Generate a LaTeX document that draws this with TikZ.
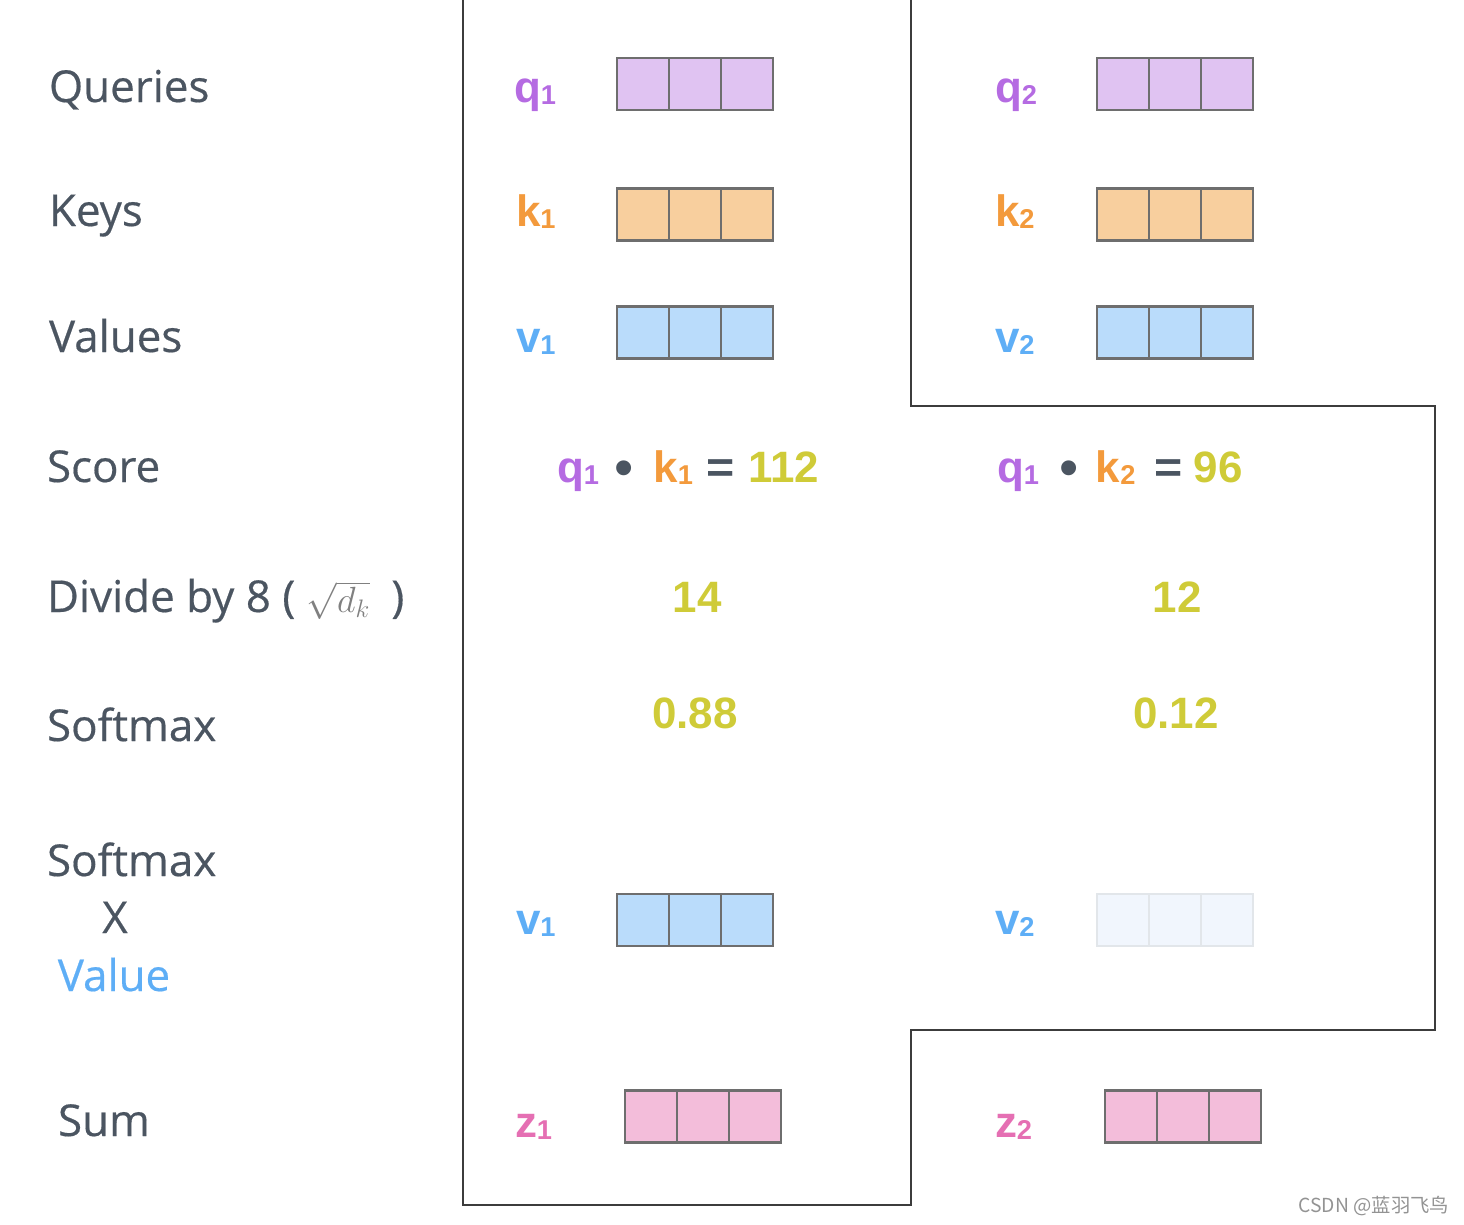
\documentclass[tikz,border=0pt]{standalone}
\usepackage{fontspec}
\setmainfont{Open Sans}
\newfontfamily\rowfont{Open Sans}[FakeBold=0.4]
\newfontfamily\lblfont{Liberation Sans}
\newfontfamily\cjk{Noto Sans CJK SC}
\usetikzlibrary{positioning}

\definecolor{txtgray}{HTML}{4B5561}
\definecolor{boxgray}{HTML}{6E6E6E}
\definecolor{framegray}{HTML}{3C3C3C}
\definecolor{qcol}{HTML}{B56BE2}
\definecolor{qfill}{HTML}{E0C3F2}
\definecolor{kcol}{HTML}{F39A3C}
\definecolor{kfill}{HTML}{F8CF9E}
\definecolor{vcol}{HTML}{5EAEF6}
\definecolor{vfill}{HTML}{BADCFB}
\definecolor{zcol}{HTML}{E56FB3}
\definecolor{zfill}{HTML}{F3BDDA}
\definecolor{numcol}{HTML}{CFCB38}
\definecolor{fadefill}{HTML}{F1F6FD}
\definecolor{fadedraw}{HTML}{E2E6EA}

% coloured vector name with its index
\newcommand\vname[3]{{\color{#1}\lblfont\bfseries #2\fontsize{15.5}{15}\selectfont\raisebox{-1.5pt}{#3}}}
% dot and equals sign of the score row
\newcommand\dotop{{\lblfont\color{txtgray}\raisebox{-2.8pt}{\scalebox{1.25}{\textbullet}}}}
\newcommand\eqop{{\lblfont\bfseries\color{txtgray}\scalebox{1.1}[1]{=}}}
% row of three cells: name, x of first cell, y, fill, border
\newcommand\vecrow[5]{%
  \foreach \i in {0,1,2}
    \node[cell, fill=#4, draw=#5] (#1\i) at (#2+52*\i,#3) {};}

\begin{document}
\begin{tikzpicture}
        [x=0.02cm, y=-0.02cm,
        every node/.style={inner sep=0pt, outer sep=0pt},
        rowlabel/.style={anchor=base west, text=txtgray,
        font=\rowfont\fontsize{25}{28}\selectfont},
        vlabel/.style={anchor=base west,
        font=\fontsize{25}{28}\selectfont},
        num/.style={anchor=base, text=numcol,
        font=\lblfont\bfseries\fontsize{25}{28}\selectfont},
        cell/.style={rectangle, minimum size=1.04cm, line width=1.4pt},
        frame/.style={draw=framegray, line width=1.2pt}]
        \useasboundingbox (0,0) rectangle (1464,1224);

        % row labels
        \node[rowlabel] (queries) at (49,102) {Queries};
        \node[rowlabel] (keys) at (49,226) {Keys};
        \node[rowlabel] (values) at (49,352) {Values};
        \node[rowlabel] (score) at (47,482) {Score};
        \node[rowlabel] (divide) at (47,612)
            {Divide by 8 ( {\color{gray}\fontsize{22.5}{22}\selectfont$\sqrt{d_k}$}\hspace{12pt})};
        \node[rowlabel] (softmax) at (47,741) {Softmax};
        \node[rowlabel] (softmaxb) at (47,876) {Softmax};
        \node[rowlabel, anchor=base] (times) at (115,933) {X};
        \node[rowlabel, anchor=base, text=vcol] (value) at (114,991) {Value};
        \node[rowlabel] (sum) at (58,1136) {Sum};

        % outline of the two columns
        \draw[frame] (463,0) |- (911,1205) |- (1435,1030) |- (911,406) -- (911,0);

        % first word
        \node[vlabel] (q1) at (514,102) {\vname{qcol}{q}{1}};
        \node[vlabel] (k1) at (516,226) {\vname{kcol}{k}{1}};
        \node[vlabel] (v1) at (516,352) {\vname{vcol}{v}{1}};
        \vecrow{q1box}{643}{84}{qfill}{boxgray}
        \vecrow{k1box}{643}{214.5}{kfill}{boxgray}
        \vecrow{v1box}{643}{332.5}{vfill}{boxgray}

        % second word
        \node[vlabel] (q2) at (995,102) {\vname{qcol}{q}{2}};
        \node[vlabel] (k2) at (995,226) {\vname{kcol}{k}{2}};
        \node[vlabel] (v2) at (995,352) {\vname{vcol}{v}{2}};
        \vecrow{q2box}{1123}{84}{qfill}{boxgray}
        \vecrow{k2box}{1123}{214.5}{kfill}{boxgray}
        \vecrow{v2box}{1123}{332.5}{vfill}{boxgray}

        % scores
        \node[vlabel] (score1) at (557,482)
            {\vname{qcol}{q}{1}\hspace{9pt}\dotop\hspace{11pt}\vname{kcol}{k}{1}\hspace{8pt}\eqop\hspace{7.5pt}{\lblfont\bfseries\color{numcol}112}};
        \node[vlabel] (score2) at (997,482)
            {\vname{qcol}{q}{1}\hspace{11.5pt}\dotop\hspace{10pt}\vname{kcol}{k}{2}\hspace{11pt}\eqop\hspace{6pt}{\lblfont\bfseries\color{numcol}96}};
        \node[num] (div1) at (697,612) {14};
        \node[num] (div2) at (1177,612) {12};
        \node[num] (soft1) at (695,728) {0.88};
        \node[num] (soft2) at (1176,728) {0.12};

        % weighted values
        \node[vlabel] (wv1) at (516,934) {\vname{vcol}{v}{1}};
        \node[vlabel] (wv2) at (995,934) {\vname{vcol}{v}{2}};
        \vecrow{wv1box}{643}{920}{vfill}{boxgray}
        \vecrow{wv2box}{1123}{920}{fadefill}{fadedraw}

        % sums
        \node[vlabel] (z1) at (515,1137) {\vname{zcol}{z}{1}};
        \node[vlabel] (z2) at (995,1137) {\vname{zcol}{z}{2}};
        \vecrow{z1box}{651}{1116.5}{zfill}{boxgray}
        \vecrow{z2box}{1131}{1116.5}{zfill}{boxgray}

        \node[anchor=base east, text=gray!85, font=\cjk\fontsize{11}{12}\selectfont]
            (mark) at (1449,1212) {CSDN @蓝羽飞鸟};
\end{tikzpicture}
\end{document}
